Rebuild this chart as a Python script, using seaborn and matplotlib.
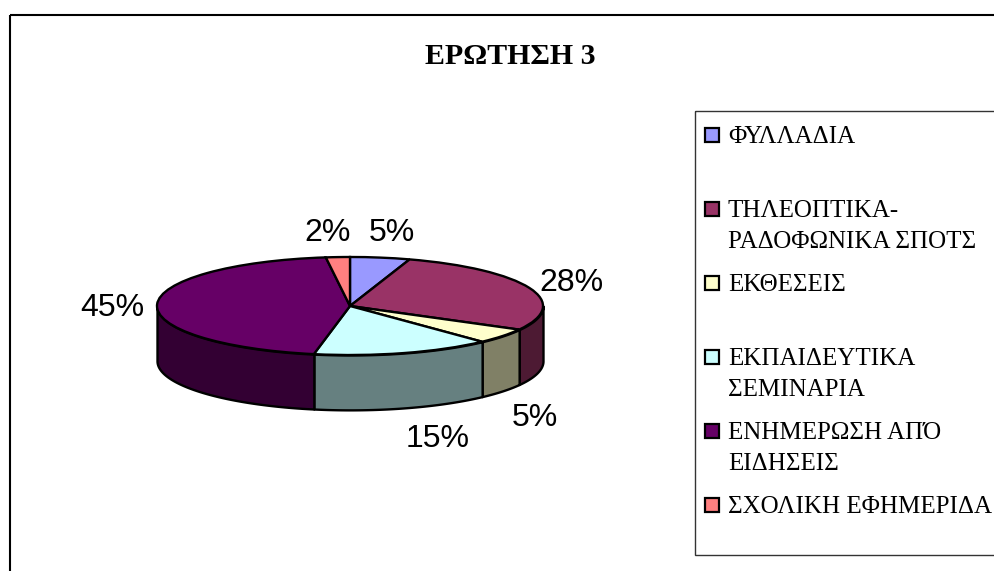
import numpy as np
import seaborn as sns
from matplotlib import pyplot as plt
from matplotlib.patches import Rectangle

TITLE = "ΕΡΩΤΗΣΗ 3"
CATEGORIES = [
    "ΦΥΛΛΑΔΙΑ",
    "ΤΗΛΕΟΠΤΙΚΑ-\nΡΑΔΟΦΩΝΙΚΑ ΣΠΟΤΣ",
    "ΕΚΘΕΣΕΙΣ",
    "ΕΚΠΑΙΔΕΥΤΙΚΑ\nΣΕΜΙΝΑΡΙΑ",
    "ΕΝΗΜΕΡΩΣΗ ΑΠΌ\nΕΙΔΗΣΕΙΣ",
    "ΣΧΟΛΙΚΗ ΕΦΗΜΕΡΙΔΑ",
]
VALUES = [5, 28, 5, 15, 45, 2]
COLORS = ["#9999FF", "#993366", "#FFFFCC", "#CCFFFF", "#660066", "#FF8080"]

# label centres in figure pixels
LABEL_POS = [(392, 233), (571, 283), (535, 418), (438, 439), (112, 308), (328, 233)]

WIDTH, HEIGHT = 994, 571
CX, CY = 350, 306  # centre of the pie top
RX, RY = 193, 49
DEPTH = 1.12  # wall height in pie units

sns.set_theme(style="white")
plt.rcParams["font.family"] = ["Liberation Serif", "DejaVu Serif"]
palette = sns.color_palette(COLORS)

fig = plt.figure(figsize=(WIDTH / 100, HEIGHT / 100), dpi=100, facecolor="white")

# background layer in pixel coordinates: frame, title, legend
bg = fig.add_axes([0, 0, 1, 1])
bg.set_xlim(0, WIDTH)
bg.set_ylim(HEIGHT, 0)
bg.axis("off")
bg.add_patch(Rectangle((10, 15), 1200, 800, fill=False, edgecolor="black", linewidth=1.5))
bg.add_patch(Rectangle((695, 111), 500, 444, fill=False, edgecolor="#333333", linewidth=1.0))
bg.text(510, 56, TITLE, ha="center", va="center", fontsize=21.5, fontweight="bold", color="black")

for i, (label, color) in enumerate(zip(CATEGORIES, palette)):
    y = 135 + 74 * i
    bg.add_patch(Rectangle((705, y - 7), 14, 14, facecolor=color, edgecolor="black", linewidth=1.6))
    bg.text(728, y - 9, label, ha="left", va="top", fontsize=18, color="black", linespacing=1.5)

# pie layer, squashed so the circle becomes the ellipse of the top face
x_lim, y_top, y_bottom = 1.25, 1.2, -2.4
ax = fig.add_axes([(CX - x_lim * RX) / WIDTH,
                   (HEIGHT - CY + y_bottom * RY) / HEIGHT,
                   2 * x_lim * RX / WIDTH,
                   (y_top - y_bottom) * RY / HEIGHT])
ax.patch.set_alpha(0)
ax.pie(VALUES, colors=palette, startangle=90, counterclock=False,
       wedgeprops={"edgecolor": "black", "linewidth": 1.7, "zorder": 2})
ax.set_aspect("auto")
ax.set_xlim(-x_lim, x_lim)
ax.set_ylim(y_bottom, y_top)

# walls of the slices on the front half
edges = np.cumsum([0] + VALUES) / sum(VALUES) * 360
for start, end, color in zip(edges[:-1], edges[1:], palette):
    a, b = max(start, 90), min(end, 270)
    if a >= b:
        continue
    theta = np.radians(np.linspace(a, b, 80))
    dark = tuple(c * 0.5 for c in color)
    ax.fill_between(np.sin(theta), np.cos(theta), np.cos(theta) - DEPTH,
                    facecolor=dark, edgecolor="black", linewidth=1.7, zorder=1)

for value, (x, y) in zip(VALUES, LABEL_POS):
    bg.text(x, y, f"{value}%", ha="center", va="center", fontsize=23,
            family=["Liberation Sans", "DejaVu Sans"], color="black", zorder=5)

fig.savefig("out.png", dpi=100)
